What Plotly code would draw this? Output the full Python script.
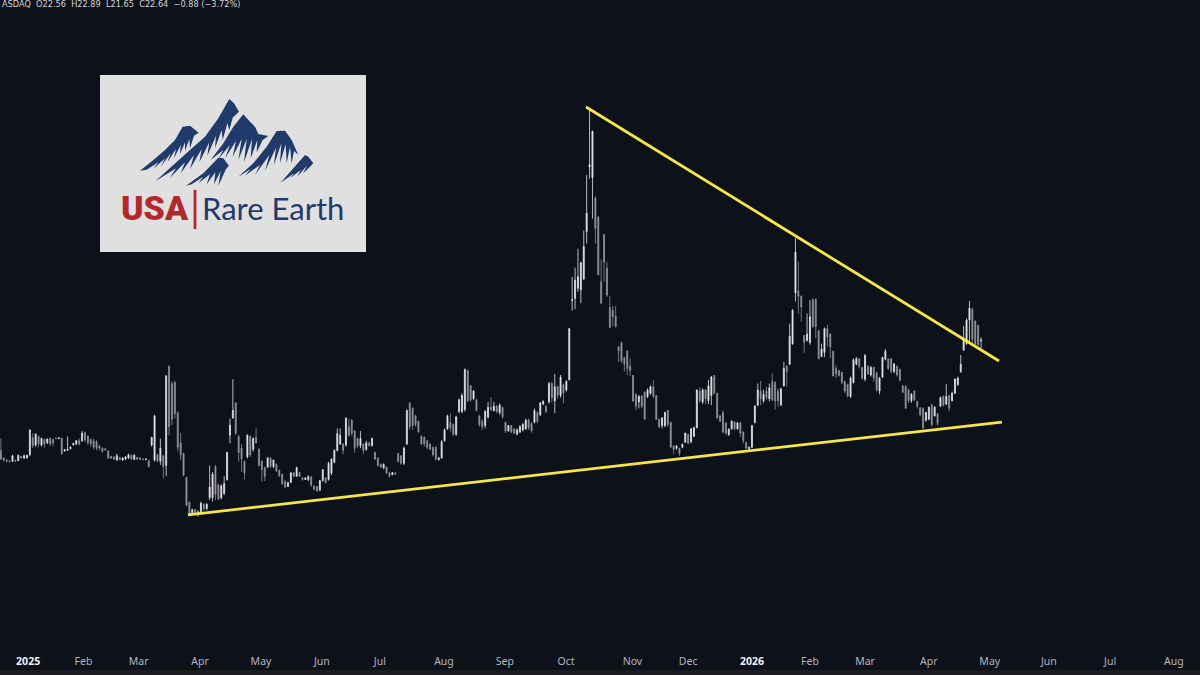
import plotly.graph_objects as go

BG = "#0d1119"
NAVY = "#1f3a6b"
RED = "#b3282d"
YELLOW = "#f6e649"

# daily bars (dollars)
opens = [
    12.4,11.7,11.5,11.4,11.4,11.5,11.45,11.85,11.7,11.7,
    12.0,13.6,12.9,13.7,12.9,13.4,13.1,13.5,13.4,13.55,
    13.5,13.5,12.35,12.4,12.55,12.9,13.0,13.3,13.3,14.05,
    13.7,13.4,13.3,13.2,12.8,12.6,12.55,12.35,11.85,11.8,
    11.5,11.75,11.5,11.6,11.7,11.95,11.55,11.75,11.7,11.6,
    11.55,11.45,12.9,11.5,12.0,11.4,11.9,11.0,20.2,18.6,
    18.7,15.9,13.1,12.1,9.9,7.6,6.6,6.9,6.5,6.6,
    7.4,7.0,8.0,8.0,10.9,9.2,8.0,8.4,9.7,13.8,
    15.4,16.8,13.7,12.6,11.4,11.8,13.7,12.5,13.6,12.5,
    11.4,10.8,10.85,11.7,10.9,11.1,10.55,10.2,9.5,9.05,
    9.45,10.3,10.0,10.35,
    9.85,9.7,9.7,9.95,9.1,9.05,8.7,9.6,9.85,9.7,
    10.3,11.3,12.4,13.0,13.0,12.9,14.6,15.2,14.2,13.5,
    12.8,13.0,12.5,13.1,12.85,12.2,11.7,11.1,10.8,10.85,
    10.3,10.15,10.3,12.1,11.9,11.2,13.0,16.8,16.3,15.6,
    15.1,13.7,13.6,13.3,13.0,12.7,12.7,11.55,11.7,13.3,
    14.4,15.0,14.8,13.9,16.0,16.0,16.2,19.8,18.4,17.2,
    17.1,15.6,15.1,14.7,15.5,16.4,16.1,16.5,15.9,16.4,
    15.0,14.2,14.7,14.4,13.9,14.1,14.3,14.4,15.2,14.9,
    15.0,15.95,15.7,16.7,16.5,16.9,18.6,17.0,18.3,17.5,
    18.5,18.0,18.95,
    26.3,26.5,27.45,27.3,28.3,32.7,38.7,37.7,35.8,34.05,
    28.05,32.4,29.3,25.65,25.4,24.85,22.0,22.4,21.0,21.6,
    20.2,19.35,17.6,16.9,17.45,17.8,17.4,17.7,18.3,17.5,
    15.3,14.7,14.7,16.1,15.0,12.8,12.6,12.6,12.7,13.15,
    13.9,13.2,13.7,14.5,17.9,16.9,18.0,17.0,17.5,19.35,
    17.7,15.6,15.9,14.95,13.85,14.4,15.05,14.4,14.95,14.1,
    13.15,12.55,12.7,15.0,16.6,
    17.9,17.0,17.9,17.2,18.8,18.7,17.9,16.6,18.4,20.2,
    20.4,22.3,27.0,27.2,26.7,23.05,22.6,22.4,26.4,26.4,
    23.5,21.1,21.5,23.7,23.2,21.6,20.0,19.8,19.65,18.8,
    18.5,17.4,18.7,20.4,20.9,20.1,19.0,20.2,19.4,20.1,
    19.6,17.9,19.2,20.85,20.9,20.9,19.7,20.2,19.9,18.4,
    18.35,18.0,17.0,17.9,16.95,16.35,16.3,15.2,15.3,16.6,
    15.6,15.8,16.5,17.4,16.7,17.5,17.0,17.7,18.5,19.7,
    21.7,22.3,24.5,25.5,24.4,24.0,22.56,
]
highs = [
    13.5,11.75,11.6,11.5,12.0,11.5,12.0,11.9,12.0,12.0,
    14.35,14.0,14.0,13.8,13.6,13.5,13.5,13.6,13.5,13.6,
    13.6,13.6,12.5,13.7,12.75,13.1,13.35,13.5,14.2,14.15,
    13.8,13.5,13.5,13.35,12.9,12.7,12.6,12.4,11.9,11.85,
    12.1,11.8,11.75,11.85,12.1,12.0,12.05,11.8,11.75,11.65,
    11.65,11.5,13.65,15.7,12.1,13.5,12.0,19.4,20.3,18.8,
    18.85,16.0,14.0,12.2,9.95,7.65,7.0,7.0,6.85,7.65,
    7.5,7.5,11.0,10.4,11.05,9.35,9.25,10.0,12.3,15.35,
    19.0,16.9,13.8,13.0,11.45,13.9,13.8,13.6,14.45,12.6,
    11.5,10.9,11.75,11.75,11.55,11.2,10.6,10.25,9.65,9.5,
    10.4,10.4,10.9,10.4,
    9.95,9.9,10.1,10.0,9.15,9.1,9.65,10.65,9.9,11.35,
    11.65,12.5,14.45,14.45,13.05,15.45,15.35,15.3,14.3,13.6,
    14.2,13.05,13.3,13.2,13.6,12.3,11.75,11.2,11.2,10.9,
    10.4,10.4,10.4,12.2,11.95,12.75,16.2,16.9,16.4,15.7,
    15.15,13.8,13.7,13.35,13.05,12.75,12.75,11.8,13.35,14.45,
    15.7,15.85,14.9,15.6,17.2,17.7,20.0,19.9,18.45,18.0,
    17.2,15.7,15.3,16.15,16.9,17.35,16.9,16.6,16.75,16.45,
    15.05,14.75,14.75,14.45,14.45,14.75,14.95,15.35,15.35,15.05,
    16.3,16.0,16.9,17.05,16.6,18.75,18.75,19.5,18.45,19.4,
    18.6,18.9,23.75,
    28.5,29.35,31.1,29.9,32.8,37.95,44.0,42.05,36.0,34.1,
    30.1,32.5,29.9,26.7,25.8,25.8,22.1,22.5,21.1,21.7,
    20.95,19.4,17.7,17.55,17.5,17.85,18.15,18.45,18.9,17.55,
    15.35,15.5,16.0,16.15,15.05,12.9,12.9,12.65,13.05,14.05,
    13.9,14.45,14.6,18.05,18.25,18.15,18.1,18.95,19.3,19.4,
    17.75,15.7,16.15,15.05,14.45,15.2,15.1,15.05,15.05,14.15,
    13.2,12.75,14.75,16.6,18.6,
    18.85,18.05,18.3,18.6,19.55,18.8,18.15,18.2,20.6,20.3,
    24.15,25.5,32.1,29.9,26.75,23.1,25.1,26.35,26.5,26.5,
    23.6,22.3,23.8,24.05,23.25,21.65,20.3,19.85,19.7,18.85,
    18.6,19.25,20.95,21.05,20.95,20.15,21.35,20.3,20.25,20.15,
    19.7,19.2,21.1,21.8,20.95,20.95,20.5,20.3,20.0,18.45,
    18.45,18.15,17.7,18.0,17.0,16.4,16.4,16.0,16.45,16.75,
    16.5,15.85,17.4,17.5,18.55,17.55,17.85,19.1,19.25,21.25,
    23.95,24.65,26.25,25.65,24.45,24.05,22.89,
]
lows = [
    11.5,11.35,11.3,11.3,11.35,11.35,11.4,11.65,11.6,11.65,
    11.85,12.6,12.75,12.7,12.75,12.65,13.0,12.8,12.8,13.45,
    13.45,12.0,12.3,12.35,12.5,12.85,12.9,12.85,13.2,13.2,
    12.9,12.75,12.5,12.4,12.4,12.2,12.4,11.6,11.6,11.5,
    11.45,11.5,11.45,11.5,11.6,11.5,11.5,11.5,11.5,11.5,
    11.5,10.8,12.75,11.35,11.3,11.05,9.8,10.0,13.8,14.75,
    15.35,12.3,11.5,10.0,7.2,6.35,6.5,6.4,6.25,6.5,
    6.8,6.85,7.8,7.65,7.8,7.8,7.85,8.25,9.6,13.05,
    15.35,13.8,11.35,10.4,9.7,11.65,11.8,12.3,13.05,10.9,
    9.5,9.55,10.75,10.75,10.75,10.4,9.95,9.2,8.9,9.0,
    9.35,9.95,9.95,9.95,
    9.6,9.65,9.55,9.0,8.7,8.55,8.65,9.5,9.35,9.6,
    10.1,11.2,12.3,12.9,12.05,12.75,13.65,13.75,12.2,12.6,
    12.6,12.05,12.35,12.75,12.75,11.5,10.9,10.75,10.65,10.2,
    9.9,10.1,10.15,11.25,11.05,11.05,12.9,14.3,14.3,14.6,
    14.05,12.9,12.75,12.5,12.4,11.85,11.45,11.45,11.65,13.2,
    14.3,14.15,13.75,13.75,15.85,15.85,16.0,16.9,16.9,17.05,
    16.0,14.6,14.3,14.45,15.35,16.05,16.0,15.85,15.7,15.35,
    14.0,14.15,14.0,13.9,13.8,14.0,14.15,14.3,14.3,14.05,
    14.9,14.9,15.6,16.6,15.85,16.75,16.9,15.85,17.2,17.3,
    16.75,17.85,18.9,
    25.35,25.5,27.1,26.05,28.2,31.6,37.6,33.9,31.6,28.65,
    26.0,28.05,26.65,23.8,23.9,23.8,20.6,20.5,19.7,19.4,
    19.3,16.9,16.15,16.3,16.3,15.2,17.25,17.55,17.25,15.2,
    14.45,14.45,14.55,14.6,12.6,12.05,12.45,11.9,12.6,13.1,
    13.0,13.05,13.65,14.45,16.8,16.7,16.7,16.7,16.6,17.6,
    15.3,15.05,14.0,13.85,13.75,14.3,14.25,14.3,13.65,13.05,
    12.5,12.45,12.6,14.9,16.5,
    16.6,16.8,17.1,16.95,16.95,16.2,16.45,16.55,18.3,18.3,
    20.3,22.2,26.2,25.1,24.35,21.45,22.5,22.2,23.75,22.8,
    20.85,21.05,21.05,22.05,20.95,19.25,19.1,19.25,18.55,17.7,
    17.3,17.25,18.6,20.3,20.0,18.95,18.8,19.4,19.25,18.8,
    17.85,17.6,19.1,20.75,19.85,19.55,19.55,19.25,18.8,17.7,
    16.25,16.8,16.8,16.95,16.3,15.55,14.35,15.05,15.2,14.6,
    15.55,14.7,16.45,16.45,16.6,16.0,16.95,17.65,18.4,19.6,
    21.65,22.2,22.5,22.2,22.2,22.05,21.65,
]
closes = [
    11.6,11.5,11.4,11.35,11.9,11.4,11.95,11.7,11.9,11.95,
    14.3,12.8,13.9,13.0,13.5,13.0,13.45,13.0,13.1,13.5,
    13.55,12.1,12.45,12.5,12.7,13.05,13.3,13.0,14.0,13.4,
    13.1,13.0,12.7,12.6,12.6,12.3,12.45,11.7,11.7,11.6,
    11.9,11.55,11.7,11.8,12.0,11.6,11.95,11.6,11.6,11.55,
    11.6,10.9,13.6,15.6,11.4,12.6,10.9,19.3,14.6,15.3,
    15.8,12.7,12.0,10.1,7.3,6.5,6.9,6.6,6.7,7.5,
    7.0,7.4,9.0,10.2,8.3,7.9,9.1,9.3,12.2,14.75,
    16.1,14.0,12.2,11.6,10.3,13.8,12.0,13.5,13.1,11.0,
    10.6,10.0,11.7,10.9,11.5,10.5,10.05,9.3,9.0,9.4,
    10.3,10.0,10.8,10.0,
    9.7,9.85,9.95,9.2,8.8,8.65,9.6,10.6,9.4,11.2,
    11.6,12.4,13.95,13.8,12.4,15.4,13.8,14.0,12.6,12.8,
    13.5,12.4,13.1,12.85,13.5,11.6,11.0,10.85,11.1,10.3,
    10.0,10.35,10.2,11.4,11.2,12.6,16.1,14.6,14.7,14.8,
    14.1,13.0,13.0,12.7,12.5,12.0,11.6,11.7,13.2,14.3,
    15.6,14.5,13.9,15.5,17.1,17.5,19.9,17.0,17.1,17.9,
    16.1,14.8,14.6,16.0,16.4,16.2,16.5,16.0,16.6,15.5,
    14.2,14.7,14.1,14.0,14.3,14.6,14.8,15.2,14.5,14.2,
    16.1,15.1,16.8,16.95,16.0,18.6,17.3,18.3,17.5,19.2,
    17.7,18.8,23.7,
    26.4,28.2,28.5,29.8,31.3,34.4,38.9,42.0,33.0,28.7,
    26.05,29.85,26.8,23.8,24.8,23.9,21.65,20.7,20.4,20.0,
    19.8,17.0,16.5,17.4,16.5,15.3,18.0,18.3,17.4,15.3,
    14.6,15.4,15.9,14.8,12.7,12.5,12.8,12.1,12.95,14.0,
    13.05,14.4,14.5,18.0,17.0,18.0,17.2,18.4,19.2,17.7,
    15.4,15.1,14.1,14.0,14.35,15.1,14.4,14.95,14.0,13.3,
    12.6,12.7,14.7,16.5,18.0,
    17.2,17.6,17.3,18.2,17.1,17.0,17.0,18.1,20.0,19.7,
    23.0,25.4,30.8,26.7,25.7,22.4,23.2,24.8,23.9,23.9,
    20.9,21.8,23.7,22.9,22.0,19.3,19.5,19.35,18.7,17.9,
    17.45,19.1,20.8,20.9,20.2,19.1,21.2,19.5,20.1,19.1,
    18.0,19.1,21.0,21.6,20.0,19.7,20.4,19.4,18.9,17.8,
    16.3,17.0,17.6,17.1,16.5,15.7,14.5,15.9,16.4,14.8,
    16.4,14.9,17.3,16.6,17.4,16.3,17.7,19.0,19.1,20.4,
    22.8,24.5,25.6,22.7,22.3,22.2,22.64,
]
bars = list(range(len(closes)))

tick_bars = [9.4, 28.5, 47.5, 68.7, 89.7, 110.7, 130.7, 152.8, 173.8, 194.9,
             217.8, 237, 259, 279, 298, 320, 341, 361.4, 382.5, 404.5]
tick_names = ["2025", "Feb", "Mar", "Apr", "May", "Jun", "Jul", "Aug", "Sep", "Oct",
              "Nov", "Dec", "2026", "Feb", "Mar", "Apr", "May", "Jun", "Jul", "Aug"]

# the two trendlines drawn on the chart
support_bars = [64.5, 345.2]
support_price = [6.41, 15.03]
resist_bars = [201.8, 344.2]
resist_price = [44.25, 20.69]

PLOT_H = 648


def to_paper(x, y):
    return x / 1200, 1 - y / PLOT_H


def logo_path(points):
    # points are zoom-crop pixels of the logo box
    out = []
    for n, (zx, zy) in enumerate(points):
        px, py = to_paper(90 + zx / 3, 65 + zy / 3)
        out.append(("M" if n == 0 else "L") + f"{px:.5f},{py:.5f}")
    return " ".join(out) + " Z"


peaks = [
    [(150,317),(190,285),(225,255),(255,225),(278,185),(300,182),(326,203),
     (312,212),(300,250),(298,222),(285,258),(285,232),(270,268),(272,240),(252,280),(258,252),
     (232,292),(242,265),(212,305),(225,280),(190,312),(205,292),(170,314)],
    [(197,348),(250,300),(300,255),(345,215),(385,160),(418,102),(432,115),(447,140),
     (428,158),(418,195),(412,175),(398,225),(395,195),(375,250),(378,212),(352,272),(358,232),
     (328,292),(335,252),(300,312),(312,270),(272,325),(285,292),(240,338),(258,310)],
    [(362,285),(400,235),(430,185),(460,148),(480,170),(495,185),(505,207),(535,213),
     (518,225),(500,262),(502,225),(482,280),(486,222),(462,292),(470,222),(445,285),(455,222),
     (428,275),(438,228),(405,280),(420,240),(385,282),(400,255)],
    [(445,335),(490,295),(530,245),(560,198),(585,197),(605,225),(625,270),
     (612,258),(605,295),(600,245),(590,295),(587,238),(570,295),(574,235),(552,300),(558,248),
     (525,318),(538,270),(495,330),(510,300),(465,332),(482,312)],
    [(288,362),(340,325),(385,278),(400,280),(417,302),
     (408,312),(385,362),(392,318),(372,358),(376,322),(350,358),(360,328),(325,355),(340,335),(305,358)],
    [(572,353),(610,310),(645,270),(655,275),(670,295),
     (660,305),(640,325),(650,302),(622,335),(632,315),(600,340),(612,325)],
]

fig = go.Figure()
fig.add_trace(go.Candlestick(
    x=bars, open=opens, high=highs, low=lows, close=closes,
    increasing=dict(line=dict(color="#e4e5e8", width=0.8), fillcolor="#e4e5e8"),
    decreasing=dict(line=dict(color="#8e9197", width=0.8), fillcolor="#a4a6ab"),
    whiskerwidth=0,
))
fig.add_trace(go.Scatter(x=support_bars, y=support_price, mode="lines",
                         line=dict(color=YELLOW, width=2.8)))
fig.add_trace(go.Scatter(x=resist_bars, y=resist_price, mode="lines",
                         line=dict(color=YELLOW, width=2.8)))

shapes = []
x0, y0 = to_paper(100, 75)
x1, y1 = to_paper(366, 252)
shapes.append(dict(type="rect", xref="paper", yref="paper", x0=x0, y0=y0, x1=x1, y1=y1,
                   fillcolor="#e0e0e0", line=dict(width=0)))
for p in peaks:
    shapes.append(dict(type="path", xref="paper", yref="paper", path=logo_path(p),
                       fillcolor=NAVY, line=dict(width=0)))
x0, y0 = to_paper(193.6, 190)
x1, y1 = to_paper(196.4, 229)
shapes.append(dict(type="rect", xref="paper", yref="paper", x0=x0, y0=y0, x1=x1, y1=y1,
                   fillcolor=RED, line=dict(width=0)))
# strip along the bottom of the window
x0, y0 = to_paper(0, 670)
x1, y1 = to_paper(1200, 675)
shapes.append(dict(type="rect", xref="paper", yref="paper", x0=x0, y0=y0, x1=x1, y1=y1,
                   fillcolor="#1b1c20", line=dict(width=0)))

annos = []
ax, ay = to_paper(155, 208)
annos.append(dict(text="USA", xref="paper", yref="paper", x=ax, y=ay, showarrow=False,
                  xanchor="center", yanchor="middle",
                  font=dict(family="Roboto", size=34, weight=900, color=RED)))
ax, ay = to_paper(273, 208)
annos.append(dict(text="Rare Earth", xref="paper", yref="paper", x=ax, y=ay, showarrow=False,
                  xanchor="center", yanchor="middle",
                  font=dict(family="Lato", size=31, color=NAVY)))
ax, ay = to_paper(0, 4)
annos.append(dict(text="ASDAQ  O22.56  H22.89  L21.65  C22.64  −0.88 (−3.72%)",
                  xref="paper", yref="paper", x=ax, y=ay, showarrow=False,
                  xanchor="left", yanchor="middle",
                  font=dict(family="DejaVu Sans", size=8.2, color="#d2d4da")))

fig.update_layout(
    width=1200, height=675,
    margin=dict(l=0, r=0, t=0, b=675 - PLOT_H),
    paper_bgcolor=BG, plot_bgcolor=BG,
    showlegend=False,
    boxgap=0.5,
    shapes=shapes,
    annotations=annos,
    font=dict(family="DejaVu Sans"),
)
tick_text = [f'<span style="color:#f0f1f4"><b>{t}</b></span>' if t.startswith("20") else t
             for t in tick_names]
fig.update_xaxes(range=[-0.3, 413.5], rangeslider_visible=False, showgrid=False, zeroline=False,
                 showline=False, tickmode="array", tickvals=tick_bars, ticktext=tick_text,
                 ticks="outside", ticklen=3, tickcolor=BG,
                 tickfont=dict(family="Noto Sans", size=10.5, color="#b2b5be"))
fig.update_yaxes(range=[-5.93, 54.18], showgrid=False, zeroline=False, showline=False,
                 showticklabels=False)

fig.write_html("out.html", config=dict(displayModeBar=False),
               post_script="document.body.style.margin='0';document.body.style.background='%s';" % BG)
